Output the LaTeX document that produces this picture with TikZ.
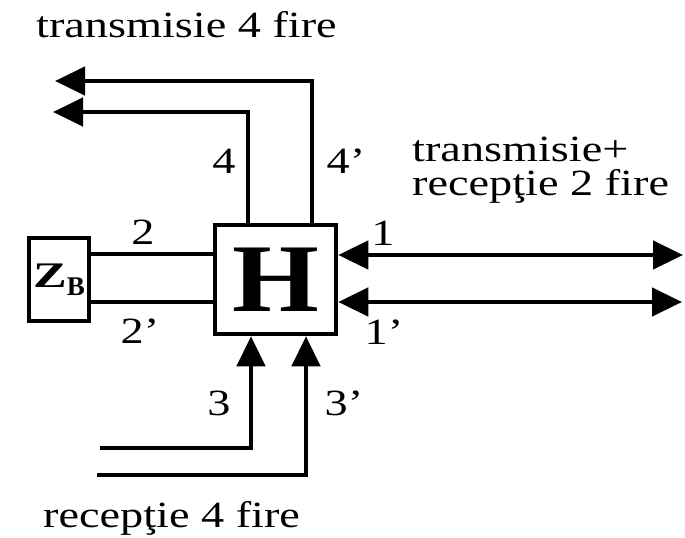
\documentclass[tikz,border=0pt]{standalone}
\usepackage{fontspec}
\setmainfont{Liberation Serif}
\usetikzlibrary{arrows.meta}
\begin{document}
\begin{tikzpicture}[x=1bp,y=-1bp,
  wire/.style={line width=4.5bp, line join=miter},
  arr/.style={wire, -{Triangle[length=30bp,width=28bp]}},
  darr/.style={wire, {Triangle[length=30bp,width=28bp]}-{Triangle[length=30bp,width=28bp]}},
  lbl/.style={inner sep=0pt, font=\fontsize{37bp}{40bp}\selectfont},
  box/.style={draw, line width=4.5bp, inner sep=0pt}]
\useasboundingbox (0,0) rectangle (685,538);
% boxes
\node[box, minimum width=121bp, minimum height=109bp] (h) at (275.5,279.5)
  {\fontsize{97bp}{97bp}\selectfont\bfseries\scalebox{1.15}[1]{H}};
\node[box, minimum width=60bp, minimum height=83bp] (zb) at (59,279.5)
  {\bfseries\fontsize{36bp}{36bp}\selectfont\scalebox{1.4}[1]{Z}\raisebox{-8bp}{\fontsize{27bp}{27bp}\selectfont B}};
% level coordinates
\coordinate (y2) at (0,254);
\coordinate (y2p) at (0,302);
\coordinate (y1) at (0,255);
\coordinate (y1p) at (0,302);
\coordinate (x4) at (248,0);
\coordinate (x4p) at (312,0);
\coordinate (x3) at (251,0);
\coordinate (x3p) at (306,0);
\coordinate (t4) at (53,112);
\coordinate (t4p) at (55,81);
\coordinate (s3) at (100,448);
\coordinate (s3p) at (97,475);
\coordinate (r1) at (683,255);
\coordinate (r1p) at (682,302);
% 2-wire side to balance impedance
\draw[wire] (zb.east |- y2) -- (h.west |- y2);
\draw[wire] (zb.east |- y2p) -- (h.west |- y2p);
% transmission 4 wires
\draw[arr] (h.north -| x4) |- (t4);
\draw[arr] (h.north -| x4p) |- (t4p);
% reception 4 wires
\draw[arr] (s3) -| (h.south -| x3);
\draw[arr] (s3p) -| (h.south -| x3p);
% 2-wire line
\draw[darr] (h.east |- y1) -- (r1);
\draw[darr] (h.east |- y1p) -- (r1p);
% labels
\node[lbl] (l4) at (224,161) {\scalebox{1.25}[1]{4}};
\node[lbl] (l4p) at (346,161) {\scalebox{1.25}[1]{4’}};
\node[lbl] (l2) at (143,232) {\scalebox{1.25}[1]{2}};
\node[lbl] (l2p) at (140,331) {\scalebox{1.25}[1]{2’}};
\node[lbl] (l1) at (383,233) {\scalebox{1.25}[1]{1}};
\node[lbl] (l1p) at (384,332) {\scalebox{1.25}[1]{1’}};
\node[lbl] (l3) at (219,403) {\scalebox{1.25}[1]{3}};
\node[lbl] (l3p) at (344,403) {\scalebox{1.25}[1]{3’}};
% texts
\node[lbl, anchor=base west] (tt) at (36,38) {\scalebox{1.25}[1]{transmisie 4 fire}};
\node[lbl, anchor=base west] (tr1) at (412,162) {\scalebox{1.25}[1]{transmisie+}};
\node[lbl, anchor=base west] (tr2) at (412,196) {\scalebox{1.25}[1]{recepţie 2 fire}};
\node[lbl, anchor=base west] (tb) at (43,527) {\scalebox{1.25}[1]{recepţie 4 fire}};
\end{tikzpicture}
\end{document}
